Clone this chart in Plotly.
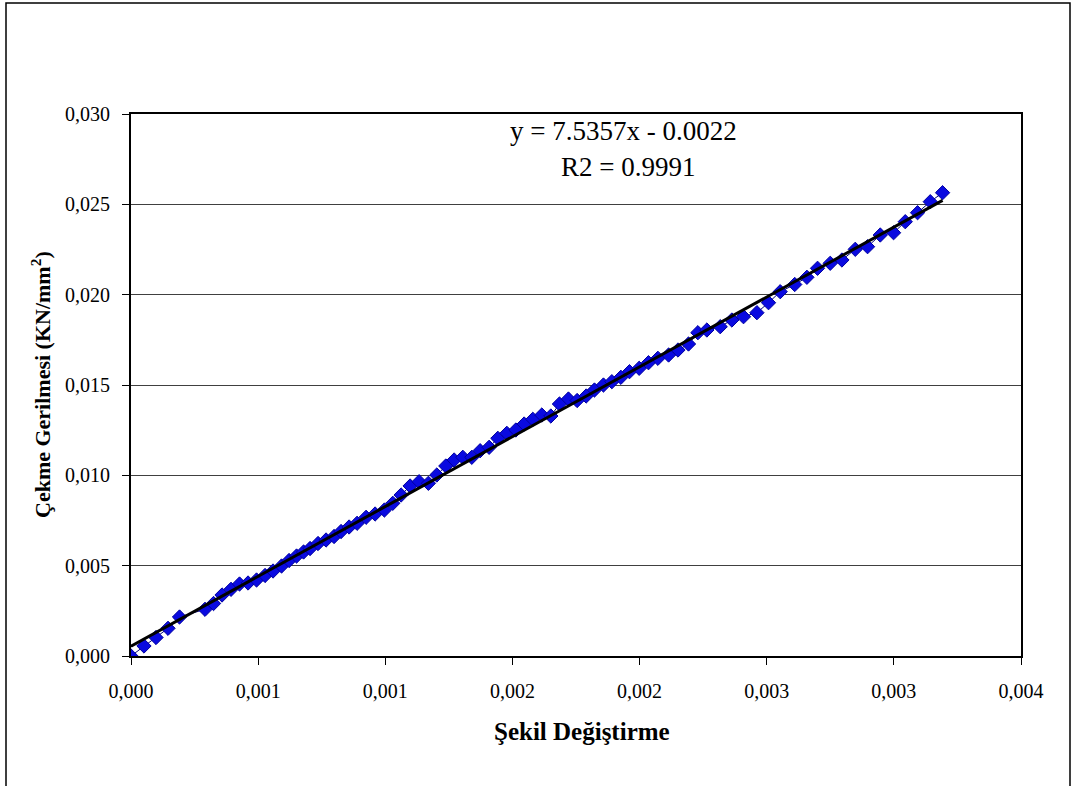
import numpy as np
import plotly.graph_objects as go

# Measured strain (Şekil Değiştirme) and tensile stress (KN/mm²)
strain = [
    0.0000000, 0.0000511, 0.0000984, 0.0001456, 0.0001908, 0.0002911, 0.0003246,
    0.0003580, 0.0003934, 0.0004268, 0.0004603, 0.0004937, 0.0005272, 0.0005586,
    0.0005921, 0.0006216, 0.0006511, 0.0006786, 0.0007042, 0.0007356, 0.0007671,
    0.0007986, 0.0008261, 0.0008576, 0.0008891, 0.0009245, 0.0009599, 0.0009965,
    0.0010295, 0.0010622, 0.0010976, 0.0011330, 0.0011696, 0.0012026, 0.0012380,
    0.0012707, 0.0013049, 0.0013403, 0.0013730, 0.0014083, 0.0014426, 0.0014780,
    0.0015134, 0.0015460, 0.0015802, 0.0016156, 0.0016511, 0.0016849, 0.0017203,
    0.0017545, 0.0017899, 0.0018226, 0.0018580, 0.0018910, 0.0019265, 0.0019603,
    0.0019984, 0.0020350, 0.0020720, 0.0021141, 0.0021511, 0.0021924, 0.0022293,
    0.0022647, 0.0023171, 0.0023630, 0.0024087, 0.0024614, 0.0025071, 0.0025531,
    0.0026102, 0.0026581, 0.0026999, 0.0027498, 0.0027958, 0.0028482, 0.0028966,
    0.0029465, 0.0029989, 0.0030448, 0.0030932, 0.0031432, 0.0031916,
]
stress = [
    0.000000, 0.000554, 0.001024, 0.001533, 0.002159, 0.002585, 0.002906,
    0.003376, 0.003692, 0.003985, 0.004041, 0.004207, 0.004456, 0.004705,
    0.004982, 0.005286, 0.005535, 0.005756, 0.005950, 0.006227, 0.006421,
    0.006614, 0.006891, 0.007140, 0.007345, 0.007677, 0.007860, 0.008081,
    0.008452, 0.008911, 0.009410, 0.009647, 0.009559, 0.010018, 0.010517,
    0.010849, 0.010998, 0.010998, 0.011363, 0.011552, 0.012050, 0.012326,
    0.012509, 0.012841, 0.013101, 0.013339, 0.013284, 0.013948, 0.014225,
    0.014142, 0.014391, 0.014723, 0.015000, 0.015183, 0.015426, 0.015736,
    0.015924, 0.016234, 0.016478, 0.016660, 0.016937, 0.017269, 0.017895,
    0.018044, 0.018227, 0.018598, 0.018780, 0.019002, 0.019555, 0.020164,
    0.020563, 0.020962, 0.021460, 0.021737, 0.021919, 0.022511, 0.022655,
    0.023302, 0.023429, 0.024038, 0.024536, 0.025145, 0.025644,
]

x_tick_vals = [0.0, 0.0005, 0.0010, 0.0015, 0.0020, 0.0025, 0.0030, 0.0035]
x_tick_text = ["0,000", "0,001", "0,001", "0,002", "0,002", "0,003", "0,003", "0,004"]
y_tick_vals = [0.0, 0.005, 0.010, 0.015, 0.020, 0.025, 0.030]
y_tick_text = ["0,000", "0,005", "0,010", "0,015", "0,020", "0,025", "0,030"]

equation_text = "y = 7.5357x - 0.0022"
r2_text = "R2 = 0.9991"

# Linear trend line through the measurements
slope, intercept = np.polyfit(strain, stress, 1)
trend_x = [min(strain), max(strain)]
trend_y = [slope * v + intercept for v in trend_x]

FONT = "Liberation Serif, Times New Roman, serif"

# Plot-area geometry in pixels (used to place frame and titles)
W, H = 1072, 786
L, R, T, B = 131, 1021, 114, 656


def px_x(p):
    return (p - L) / (R - L)


def px_y(p):
    return (B - p) / (B - T)


fig = go.Figure()

fig.add_trace(go.Scatter(
    x=strain, y=stress,
    mode="lines+markers",
    line=dict(color="#00007a", width=1),
    marker=dict(symbol="diamond", size=11, color="#0a0ae0",
                line=dict(color="#0000a0", width=1)),
    showlegend=False,
    hoverinfo="x+y",
))

fig.add_trace(go.Scatter(
    x=trend_x, y=trend_y,
    mode="lines",
    line=dict(color="black", width=3),
    showlegend=False,
    hoverinfo="skip",
))

axis_common = dict(
    showline=True, linecolor="black", linewidth=2, mirror=True,
    ticks="outside", ticklen=7, tickwidth=1, tickcolor="black",
    tickfont=dict(family=FONT, size=20, color="black"),
    zeroline=False,
)

fig.update_xaxes(
    range=[0, 0.0035], tickvals=x_tick_vals, ticktext=x_tick_text,
    showgrid=False, ticklabelstandoff=9, **axis_common,
)
fig.update_yaxes(
    range=[0, 0.030], tickvals=y_tick_vals, ticktext=y_tick_text,
    showgrid=True, gridcolor="#404040", gridwidth=1,
    ticklabelstandoff=8, **axis_common,
)

annotations = [
    dict(text=equation_text, x=px_x(623), y=px_y(131), xref="paper", yref="paper",
         showarrow=False, font=dict(family=FONT, size=27, color="black"),
         xanchor="center", yanchor="middle"),
    dict(text=r2_text, x=px_x(628), y=px_y(167), xref="paper", yref="paper",
         showarrow=False, font=dict(family=FONT, size=27, color="black"),
         xanchor="center", yanchor="middle"),
    dict(text="<b>Şekil Değiştirme</b>", x=px_x(582), y=px_y(732),
         xref="paper", yref="paper", showarrow=False,
         font=dict(family=FONT, size=25, color="black"),
         xanchor="center", yanchor="middle"),
    dict(text="<b>Çekme Gerilmesi (KN/mm<sup>2</sup>)</b>", x=px_x(41), y=px_y(385),
         xref="paper", yref="paper", showarrow=False, textangle=-90,
         font=dict(family=FONT, size=22, color="black"),
         xanchor="center", yanchor="middle"),
]

# Outer chart frame
shapes = [dict(
    type="rect", xref="paper", yref="paper",
    x0=px_x(6), x1=px_x(1070), y0=px_y(800), y1=px_y(3),
    line=dict(color="black", width=1.5), fillcolor="rgba(0,0,0,0)", layer="below",
)]

fig.update_layout(
    width=W, height=H, autosize=False,
    margin=dict(l=L, r=W - R, t=T, b=H - B, pad=0),
    paper_bgcolor="white", plot_bgcolor="white",
    annotations=annotations, shapes=shapes,
    font=dict(family=FONT, color="black"),
)

fig.write_html("out.html")
